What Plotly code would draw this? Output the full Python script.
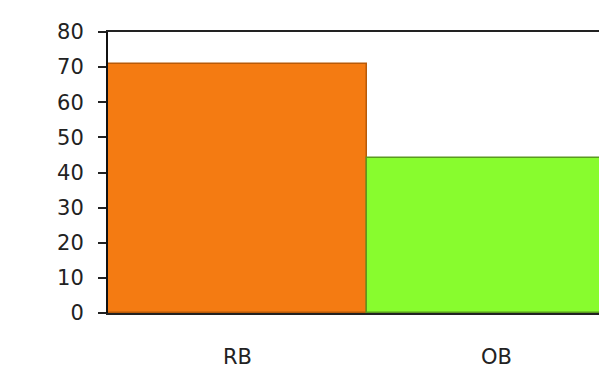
import plotly.graph_objects as go

categories = ["RB", "OB"]
values = [71, 44]
colors = ["#F47B12", "#88FC2E"]
edge_colors = ["#B85A08", "#5A9A20"]
y_ticks = [0, 10, 20, 30, 40, 50, 60, 70, 80]

fig = go.Figure(go.Bar(
    x=categories, y=values,
    marker=dict(color=colors, line=dict(color=edge_colors, width=1.5)),
    width=1.0,
))

fig.update_layout(
    width=599, height=371,
    margin=dict(l=108, r=0, t=32, b=58),
    paper_bgcolor="white", plot_bgcolor="white",
    showlegend=False,
    bargap=0,
    font=dict(family="DejaVu Sans", color="#222222"),
)
fig.update_xaxes(
    range=[-0.5, 1.396],
    showline=True, linecolor="#222222", linewidth=2, mirror=True,
    showgrid=False, ticks="",
    tickfont=dict(size=21, color="#222222"),
    ticklabelstandoff=24,
)
fig.update_yaxes(
    range=[0, 80], tickvals=y_ticks,
    showline=True, linecolor="#111111", linewidth=2,
    showgrid=False, zeroline=False,
    ticks="outside", ticklen=8, tickwidth=2, tickcolor="#222222",
    tickfont=dict(size=21, color="#222222"),
    ticklabelstandoff=10,
)

fig.write_html("out.html")
